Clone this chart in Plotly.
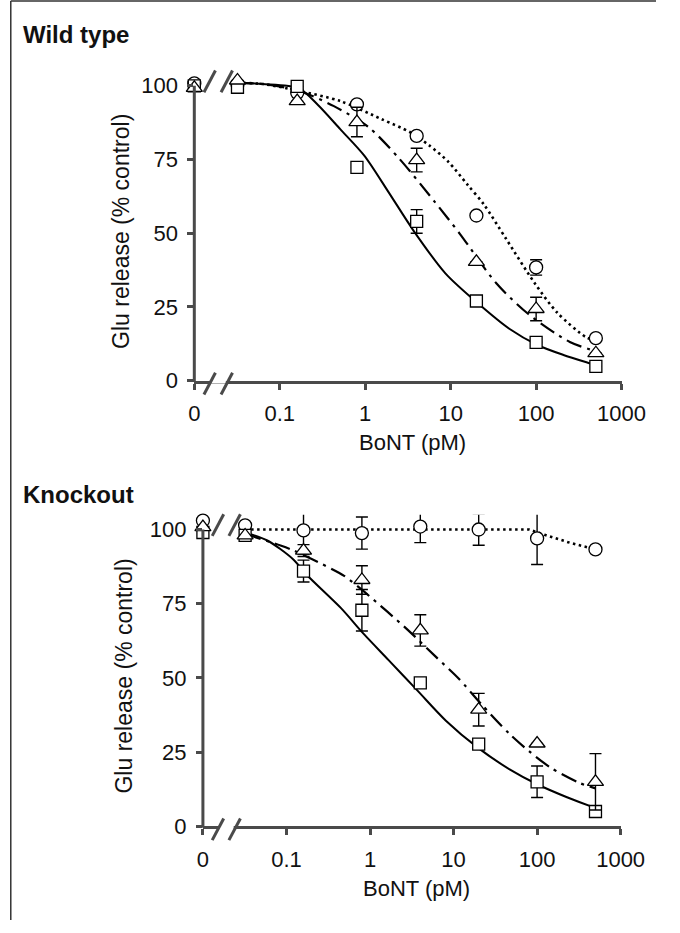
import numpy as np
import plotly.graph_objects as go

W, H = 680, 933

# ---------------- data ----------------
doses = [0, 0.032, 0.16, 0.8, 4, 20, 100, 500]          # pM; 0 is drawn at the axis break
ZERO_DOSE_POS = 0.01
x_tick_vals = [0.01, 0.1, 1, 10, 100, 1000]
x_tick_text = ["0", "0.1", "1", "10", "100", "1000"]
y_tick_vals = [0, 25, 50, 75, 100]

wt_square = [100, 99.5, 99.8, 72.3, 54, 27, 13, 4.8]
wt_square_err = [0, 0, 0, 0, 4, 0, 0, 0]
wt_triangle = [99.3, 101.8, 94.8, 87.7, 74.8, 40.3, 24.3, 9.3]
wt_triangle_err = [0, 0, 0, 5, 4, 0, 4, 0]
wt_circle = [100.8, 100.5, 97.6, 93.7, 83, 56, 38.4, 14.4]
wt_circle_err = [0, 0, 0, 0, 0, 0, 2.6, 0]

ko_square = [99, 98, 86, 72.8, 48.3, 27.7, 15, 5]
ko_square_err = [0, 0, 3.7, 7, 0, 0, 5.3, 0]
ko_triangle = [100.8, 98, 92.9, 83, 66, 39.3, 27.9, 15]
ko_triangle_err = [0, 0, 2, 4.8, 5.3, 5.5, 0, 9.5]
ko_circle = [103, 101.4, 99.7, 98.8, 101, 100, 97, 93.3]
ko_circle_err = [0, 0, 8, 5.4, 5.4, 5.3, 8.8, 0]

# fitted curves
wt_fit_square_x = [0.032, 0.063, 0.166, 0.28, 0.51, 0.97, 1.85, 3.67, 8.67, 20.5, 48.5, 105, 209, 453, 500]
wt_fit_square_y = [101, 100.6, 99.2, 93.5, 85.3, 76.4, 64.2, 50.9, 36.4, 26.4, 17.6, 12, 8.7, 5.6, 5.2]
wt_fit_triangle_x = [0.032, 0.063, 0.166, 0.43, 1.1, 2.5, 6.4, 12.8, 34, 81, 248, 500]
wt_fit_triangle_y = [101, 100.6, 98.3, 93.1, 85.9, 75.3, 60.9, 49.8, 33.1, 22.6, 13.1, 10]
wt_fit_circle_x = [0.032, 0.063, 0.166, 0.51, 1.55, 3.37, 5.6, 9.4, 15.8, 24.4, 44.5, 96, 176, 380, 500]
wt_fit_circle_y = [101, 100.6, 98.3, 94.8, 88.7, 84.2, 79.8, 74.2, 66.4, 59.8, 48.1, 33.1, 23.1, 14.8, 13.5]

ko_fit_square_x = [0.032, 0.059, 0.12, 0.178, 0.45, 0.83, 1.67, 3.68, 8.1, 19.5, 46.9, 103, 228, 476, 500]
ko_fit_square_y = [99, 96.3, 90, 84.5, 73.5, 65, 56, 45.8, 35.6, 26.5, 19.2, 14, 9.8, 6.4, 6.2]
ko_fit_triangle_x = [0.032, 0.085, 0.12, 0.24, 0.49, 0.83, 1.6, 2.83, 6.2, 11.5, 21.3, 46.9, 79.4, 146.6, 323, 500]
ko_fit_triangle_y = [98.5, 94.6, 93, 89, 84.4, 79.3, 72.4, 66.2, 57, 49.8, 41.3, 31.1, 25.4, 19.7, 14.6, 12.8]
ko_fit_circle_x = [0.032, 1, 80, 123, 250, 500]
ko_fit_circle_y = [100, 100, 100, 98.2, 95.5, 93.3]

panel_titles = ["Wild type", "Knockout"]
x_title = "BoNT (pM)"
y_title = "Glu release (% control)"

# ---------------- geometry (pixels) ----------------
panels = [
    dict(x0=197, x1=644, y0=386, ppu=2.99, title_y=35, ylab_x=121),
    dict(x0=206, x1=643, y0=838, ppu=3.01, title_y=501, ylab_x=123),
]
YMAX = 105
XR = [-2, 3]
FONT = "Liberation Sans, Arial, Helvetica, sans-serif"
AXC = "#4a4a4a"
TICK_FS = 22
TITLE_FS = 23


def px2fx(px):
    return px / W


def px2fy(py):
    return 1 - py / H


def dose_pos(d):
    d = np.asarray(d, dtype=float)
    return np.log10(np.where(d == 0, ZERO_DOSE_POS, d))


fig = go.Figure()
shapes = []
annotations = []

sets = [
    dict(sq=wt_square, sqe=wt_square_err, tr=wt_triangle, tre=wt_triangle_err,
         ci=wt_circle, cie=wt_circle_err,
         fs=(wt_fit_square_x, wt_fit_square_y), ft=(wt_fit_triangle_x, wt_fit_triangle_y),
         fc=(wt_fit_circle_x, wt_fit_circle_y), circ_shape="spline"),
    dict(sq=ko_square, sqe=ko_square_err, tr=ko_triangle, tre=ko_triangle_err,
         ci=ko_circle, cie=ko_circle_err,
         fs=(ko_fit_square_x, ko_fit_square_y), ft=(ko_fit_triangle_x, ko_fit_triangle_y),
         fc=(ko_fit_circle_x, ko_fit_circle_y), circ_shape="linear"),
]

layout_axes = {}
for i, (p, s) in enumerate(zip(panels, sets)):
    xa = "x" if i == 0 else "x2"
    ya = "y" if i == 0 else "y2"
    xkey = "xaxis" if i == 0 else "xaxis2"
    ykey = "yaxis" if i == 0 else "yaxis2"
    ytop_px = p["y0"] - YMAX * p["ppu"]
    layout_axes[xkey] = dict(
        domain=[px2fx(p["x0"]), px2fx(p["x1"])], range=XR, anchor=ya,
        tickvals=list(np.log10(x_tick_vals)), ticktext=x_tick_text,
        showline=True, linecolor=AXC, linewidth=3, mirror=False,
        ticks="outside", ticklen=6, tickwidth=3, tickcolor=AXC,
        showgrid=False, zeroline=False, ticklabelstandoff=5,
        tickfont=dict(family=FONT, size=TICK_FS, color="#111"),
    )
    layout_axes[ykey] = dict(
        domain=[px2fy(p["y0"]), px2fy(ytop_px)], range=[0, YMAX], anchor=xa,
        tickvals=y_tick_vals, showline=False,
        ticks="outside", ticklen=6, tickwidth=3, tickcolor=AXC,
        showgrid=False, zeroline=False, ticklabelstandoff=5,
        tickfont=dict(family=FONT, size=TICK_FS, color="#111"),
    )

    fx, fy = s["fs"]
    fig.add_trace(go.Scatter(x=dose_pos(fx), y=fy, mode="lines", xaxis=xa, yaxis=ya,
                             line=dict(color="black", width=2, shape="spline", smoothing=0.8),
                             showlegend=False, hoverinfo="skip"))
    fx, fy = s["ft"]
    fig.add_trace(go.Scatter(x=dose_pos(fx), y=fy, mode="lines", xaxis=xa, yaxis=ya,
                             line=dict(color="black", width=2.2, shape="spline", smoothing=0.8,
                                       dash="16px,6px,3px,6px"),
                             showlegend=False, hoverinfo="skip"))
    fx, fy = s["fc"]
    fig.add_trace(go.Scatter(x=dose_pos(fx), y=fy, mode="lines", xaxis=xa, yaxis=ya,
                             line=dict(color="black", width=2.6, shape=s["circ_shape"], smoothing=0.8,
                                       dash="2.5px,3.5px"),
                             showlegend=False, hoverinfo="skip"))

    xs = dose_pos(doses)
    for vals, errs, sym, size in [(s["ci"], s["cie"], "circle", 13),
                                  (s["sq"], s["sqe"], "square", 12),
                                  (s["tr"], s["tre"], "triangle-up", 14)]:
        fig.add_trace(go.Scatter(
            x=xs, y=vals, mode="markers", xaxis=xa, yaxis=ya, cliponaxis=False,
            marker=dict(symbol=sym, size=size, color="white",
                        line=dict(color="black", width=1.3)),
            error_y=dict(type="data", array=errs, visible=True, color="black",
                         thickness=1.4, width=6),
            showlegend=False, hoverinfo="skip"))

    xax_px = p["x0"]
    shapes.append(dict(type="line", xref="paper", yref="paper",
                       x0=px2fx(xax_px), x1=px2fx(xax_px),
                       y0=px2fy(p["y0"] + 1.5), y1=px2fy(p["y0"] - 100 * p["ppu"]),
                       line=dict(color=AXC, width=3), layer="above"))
    dec = (p["x1"] - p["x0"]) / 5.0
    s1 = p["x0"] + dec * 0.18
    s2 = p["x0"] + dec * 0.38
    shapes.append(dict(type="rect", xref="paper", yref="paper",
                       x0=px2fx(s1 + 1), x1=px2fx(s2 - 1),
                       y0=px2fy(p["y0"] + 3), y1=px2fy(p["y0"] - 3),
                       fillcolor="white", line=dict(width=0), layer="above"))
    for sx in (s1, s2):
        for cy in (p["y0"] + 3, p["y0"] - 101.5 * p["ppu"]):
            shapes.append(dict(type="line", xref="paper", yref="paper",
                               x0=px2fx(sx - 6), x1=px2fx(sx + 6),
                               y0=px2fy(cy + 11), y1=px2fy(cy - 11),
                               line=dict(color=AXC, width=3), layer="above"))

    annotations.append(dict(text=f"<b>{panel_titles[i]}</b>", xref="paper", yref="paper",
                            x=px2fx(16), y=px2fy(p["title_y"]), xanchor="left", yanchor="middle",
                            showarrow=False, font=dict(family=FONT, size=24, color="#111")))
    annotations.append(dict(text=y_title, xref="paper", yref="paper", textangle=-90,
                            x=px2fx(p["ylab_x"]), y=px2fy(p["y0"] - 50 * p["ppu"] - 2),
                            xanchor="center", yanchor="middle", showarrow=False,
                            font=dict(family=FONT, size=TITLE_FS, color="#111")))
    annotations.append(dict(text=x_title, xref="paper", yref="paper",
                            x=px2fx((p["x0"] + p["x1"]) / 2 + 5), y=px2fy(p["y0"] + 63),
                            xanchor="center", yanchor="middle", showarrow=False,
                            font=dict(family=FONT, size=TITLE_FS - 1, color="#111")))

shapes.append(dict(type="line", xref="paper", yref="paper", x0=px2fx(5), x1=px2fx(5),
                   y0=0, y1=px2fy(1), line=dict(color="#333", width=1.5)))
shapes.append(dict(type="line", xref="paper", yref="paper", x0=px2fx(5), x1=1,
                   y0=px2fy(1), y1=px2fy(1), line=dict(color="#333", width=1.5)))

fig.update_layout(
    width=W, height=H, margin=dict(l=0, r=0, t=0, b=0),
    paper_bgcolor="white", plot_bgcolor="white",
    shapes=shapes, annotations=annotations, showlegend=False,
    **layout_axes,
)

fig.write_html("out.html", config={"displayModeBar": False},
               post_script="document.body.style.margin='0px';")
